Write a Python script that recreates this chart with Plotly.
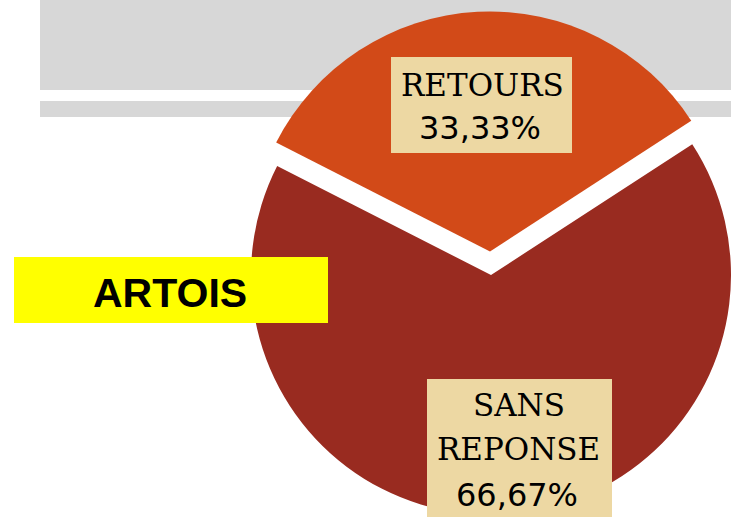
import plotly.graph_objects as go

# ---- data ----
categories = ["RETOURS", "SANS REPONSE"]
values = [33.33, 66.67]
label_lines = [["RETOURS"], ["SANS", "REPONSE"]]
pct_labels = ["33,33%", "66,67%"]
title_text = "ARTOIS"

W, H = 731, 517
ORANGE = "#D24A18"
DARKRED = "#992B20"
BEIGE = "#EDD8A3"
GRAY = "#D7D7D7"
CLEAR = "rgba(0,0,0,0)"


def px_x(x):
    return x / W


def px_y(y):
    return 1 - y / H


fig = go.Figure()

# SANS REPONSE slice (centre 491,275 ; r 240)
fig.add_trace(go.Pie(
    labels=categories, values=values, sort=False, direction="clockwise",
    rotation=-63, textinfo="none", hoverinfo="skip", showlegend=False,
    marker=dict(colors=[CLEAR, DARKRED], line=dict(width=0)),
    domain=dict(x=[px_x(251), 1.0], y=[px_y(515), px_y(35)]),
))
# RETOURS slice, pulled out upward
fig.add_trace(go.Pie(
    labels=categories, values=values, sort=False, direction="clockwise",
    rotation=-63, textinfo="none", hoverinfo="skip", showlegend=False,
    marker=dict(colors=[ORANGE, CLEAR], line=dict(width=0)),
    domain=dict(x=[px_x(250), px_x(730)], y=[px_y(491.5), px_y(11.5)]),
))

shapes = []
# grey textured banner
shapes.append(dict(type="rect", xref="paper", yref="paper", layer="below",
                   x0=px_x(40), x1=1.0, y0=px_y(90), y1=1.0,
                   fillcolor=GRAY, line=dict(width=0)))
shapes.append(dict(type="rect", xref="paper", yref="paper", layer="below",
                   x0=px_x(40), x1=1.0, y0=px_y(117), y1=px_y(101),
                   fillcolor=GRAY, line=dict(width=0)))
# label boxes
shapes.append(dict(type="rect", xref="paper", yref="paper", layer="above",
                   x0=px_x(391), x1=px_x(572), y0=px_y(153), y1=px_y(57),
                   fillcolor=BEIGE, line=dict(width=0)))
shapes.append(dict(type="rect", xref="paper", yref="paper", layer="above",
                   x0=px_x(427), x1=px_x(612), y0=0.0, y1=px_y(379),
                   fillcolor=BEIGE, line=dict(width=0)))
# ARTOIS yellow box
shapes.append(dict(type="rect", xref="paper", yref="paper", layer="above",
                   x0=px_x(14), x1=px_x(328), y0=px_y(323), y1=px_y(257),
                   fillcolor="#FFFF00", line=dict(width=0)))

serif = dict(family="DejaVu Serif", size=31, color="black")
sans = dict(family="DejaVu Sans", size=32, color="black")

annotations = []


def add_text(text, x, y, font):
    annotations.append(dict(text=text, x=px_x(x), y=px_y(y), xref="paper", yref="paper",
                            xanchor="center", yanchor="middle", showarrow=False,
                            font=font))


add_text(label_lines[0][0], 482, 85, serif)
add_text(pct_labels[0], 480, 128, sans)
add_text(label_lines[1][0], 519, 405, serif)
add_text(label_lines[1][1], 518.5, 449, serif)
add_text(pct_labels[1], 517, 495, sans)
add_text("<b>" + title_text + "</b>", 170, 293,
         dict(family="Liberation Sans", size=41, color="black"))

fig.update_layout(
    width=W, height=H, margin=dict(l=0, r=0, t=0, b=0),
    paper_bgcolor="white", plot_bgcolor="white",
    showlegend=False, shapes=shapes, annotations=annotations,
)

fig.write_html("out.html", config={"displayModeBar": False},
               post_script="document.body.style.margin='0';document.body.style.overflow='hidden';")
